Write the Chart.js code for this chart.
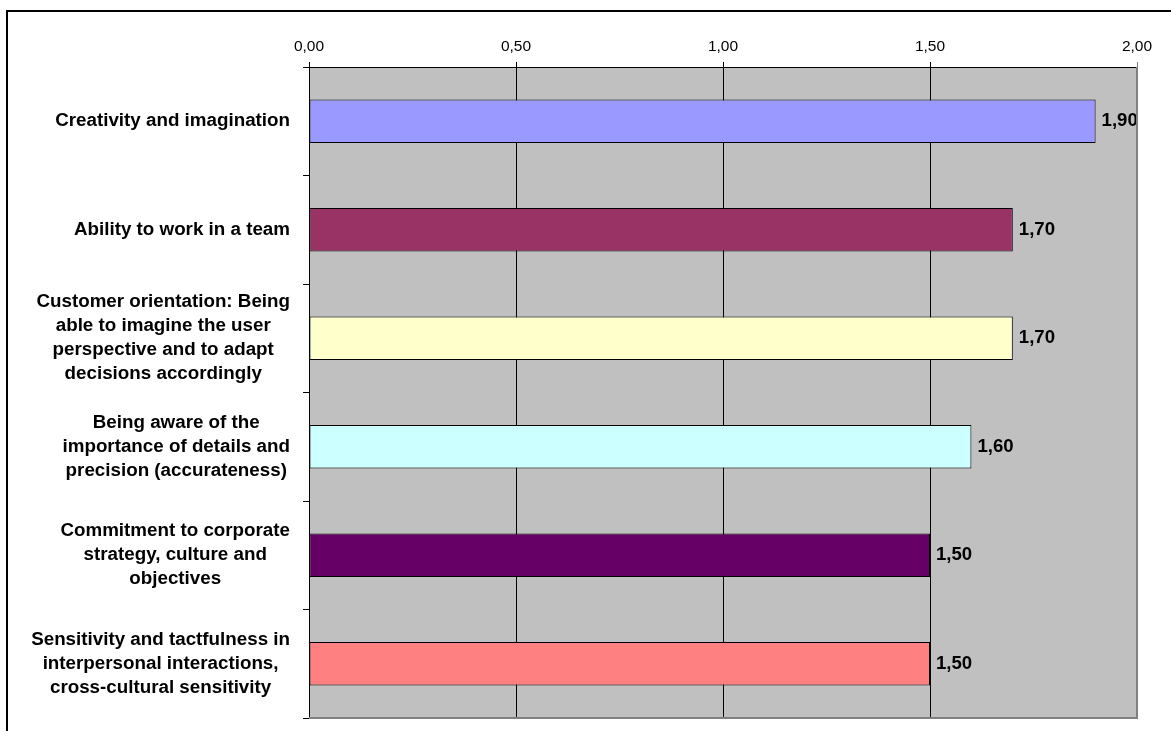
<!DOCTYPE html>
<html>
<head>
<meta charset="utf-8">
<script src="https://cdn.jsdelivr.net/npm/chart.js@4"></script>
<style>
  html, body { margin: 0; padding: 0; background: #fff; overflow: hidden; }
  #wrap { position: relative; width: 1171px; height: 731px; overflow: hidden; }
  #frame {
    position: absolute; left: 6px; top: 10px; width: 1300px; height: 900px;
    border-left: 2px solid #000; border-top: 2px solid #000; pointer-events: none;
  }
</style>
</head>
<body>
<div id="wrap">
  <canvas id="chart" width="1171" height="731"></canvas>
  <div id="frame"></div>
</div>
<script>
// Category labels (already split into lines the way the original wraps them)
const categories = [
    ['Creativity and imagination'],
    ['Ability to work in a team'],
    ['Customer orientation: Being', 'able to imagine the user', 'perspective and to adapt', 'decisions accordingly'],
    ['Being aware of the', 'importance of details and', 'precision (accurateness)'],
    ['Commitment to corporate', 'strategy, culture and', 'objectives'],
    ['Sensitivity and tactfulness in', 'interpersonal interactions,', 'cross-cultural sensitivity']
];
const scores = [1.90, 1.70, 1.70, 1.60, 1.50, 1.50];
const barColors = ['#9999FF', '#993366', '#FFFFCC', '#CCFFFF', '#660066', '#FF8080'];
const xTickValues = [0, 0.5, 1, 1.5, 2];

const FONT = 'Arial, "Liberation Sans", sans-serif';

function fmt(v) {
    return Number(v).toFixed(2).replace('.', ',');
}

// Gray plot area, with the darker right/bottom edge Excel draws
const plotArea = {
    id: 'plotArea',
    beforeDraw(chart) {
        const { ctx, chartArea: a } = chart;
        ctx.save();
        ctx.fillStyle = '#C0C0C0';
        ctx.fillRect(a.left, a.top, a.right - a.left, a.bottom - a.top);
        ctx.restore();
    },
    afterDraw(chart) {
        const { ctx, chartArea: a } = chart;
        ctx.save();
        ctx.strokeStyle = '#808080';
        ctx.lineWidth = 2;
        ctx.beginPath();
        ctx.moveTo(a.right, a.top);
        ctx.lineTo(a.right, a.bottom);
        ctx.lineTo(a.left, a.bottom);
        ctx.stroke();
        ctx.restore();
    }
};

// Category labels: each block is right aligned, lines centered inside the block
const categoryLabels = {
    id: 'categoryLabels',
    afterDraw(chart) {
        const { ctx } = chart;
        const yScale = chart.scales.y;
        const rightEdge = yScale.right - 19;
        const lineHeight = 24;
        ctx.save();
        ctx.font = 'bold 18.8px ' + FONT;
        ctx.fillStyle = '#000';
        ctx.textAlign = 'center';
        ctx.textBaseline = 'middle';
        categories.forEach((lines, i) => {
            const yc = yScale.getPixelForValue(i);
            const blockW = Math.max(...lines.map(l => ctx.measureText(l).width));
            const xc = rightEdge - blockW / 2;
            const y0 = yc - (lines.length - 1) * lineHeight / 2;
            lines.forEach((l, k) => ctx.fillText(l, xc, y0 + k * lineHeight));
        });
        ctx.restore();
    }
};

// Value labels at the end of each bar
const valueLabels = {
    id: 'valueLabels',
    afterDatasetsDraw(chart) {
        const { ctx } = chart;
        const meta = chart.getDatasetMeta(0);
        ctx.save();
        ctx.font = 'bold 18.6px ' + FONT;
        ctx.fillStyle = '#000';
        ctx.textAlign = 'left';
        ctx.textBaseline = 'middle';
        meta.data.forEach((bar, i) => {
            ctx.fillText(fmt(scores[i]), bar.x + 6, bar.y);
        });
        ctx.restore();
    }
};

new Chart(document.getElementById('chart'), {
    type: 'bar',
    data: {
        labels: categories,
        datasets: [{
            data: scores,
            backgroundColor: barColors,
            borderColor: '#000',
            borderWidth: 1,
            borderSkipped: false,
            barPercentage: 0.4,
            categoryPercentage: 1
        }]
    },
    options: {
        indexAxis: 'y',
        responsive: false,
        animation: false,
        layout: { padding: { left: 8, top: 12, right: 34, bottom: 13 } },
        plugins: {
            legend: { display: false },
            tooltip: { enabled: false }
        },
        scales: {
            x: {
                position: 'top',
                min: 0,
                max: 2,
                afterBuildTicks: s => { s.ticks = xTickValues.map(v => ({ value: v })); },
                afterFit: s => { s.height = 55; },
                grid: {
                    color: c => (c.tick && c.tick.value === 2 ? '#808080' : '#000'),
                    tickLength: 5
                },
                border: { color: '#000' },
                ticks: {
                    color: '#000',
                    padding: 6,
                    maxRotation: 0,
                    font: { family: FONT, size: 15.5 },
                    callback: v => fmt(v)
                }
            },
            y: {
                afterFit: s => { s.width = 301; },
                grid: { drawOnChartArea: false, color: '#000', tickLength: 6, offset: true },
                border: { color: '#000' },
                ticks: { display: false }
            }
        }
    },
    plugins: [plotArea, categoryLabels, valueLabels]
});
</script>
</body>
</html>
